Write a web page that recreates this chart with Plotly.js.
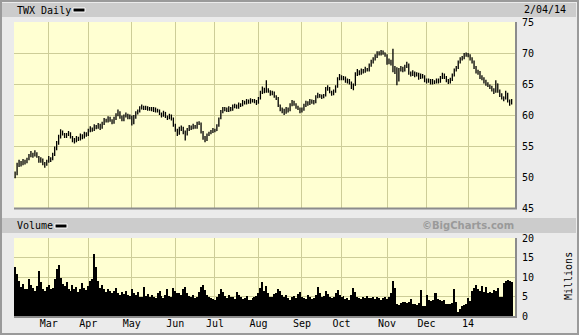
<!DOCTYPE html>
<html><head><meta charset="utf-8">
<script src="https://cdn.plot.ly/plotly-3.0.1.min.js"></script>
<style>html,body{margin:0;padding:0;background:#ebebeb;}</style>
</head><body><div id="chart" style="width:579px;height:335px;"></div>
<script>
// ---- data (trading-day index 0 = 5 Feb 2013 ... 251 = 4 Feb 2014) ----
const monthTickIdx = [17,37,59,81,101,123,145,165,188,208,229];
const monthLabels = ['Mar','Apr','May','Jun','Jul','Aug','Sep','Oct','Nov','Dec','14'];
const priceTicks = [45,50,55,60,65,70,75];
const volTicks = [0,5,10,15,20];

const openP = [
50.0,50.4,51.9,52.3,52.1,52.5,52.4,52.9,53.4,53.8,
53.5,53.8,53.2,52.6,52.8,52.2,52.0,52.5,53.0,52.9,
53.7,54.6,55.4,56.5,57.2,56.9,56.6,56.9,57.0,56.4,
56.0,55.9,56.2,56.1,56.7,56.5,57.0,56.9,57.5,57.8,
57.7,58.2,58.0,58.4,58.0,58.6,59.2,59.0,59.5,59.1,
58.8,59.4,60.0,60.4,59.6,59.3,59.8,60.0,59.5,59.8,
58.7,59.7,60.3,60.6,61.1,61.3,61.0,61.2,60.9,61.1,
60.8,61.0,60.6,60.7,60.2,59.9,60.4,59.7,59.5,59.9,
59.4,58.4,57.6,57.0,57.7,57.9,57.2,56.9,57.6,58.1,
57.9,58.3,58.0,58.6,58.7,57.2,56.4,55.9,56.8,57.0,
57.4,57.6,57.5,58.2,59.4,60.5,60.9,61.0,60.7,61.1,
60.9,61.4,61.5,61.2,61.7,61.6,62.1,61.9,62.3,62.0,
62.4,62.2,62.3,61.9,62.6,63.6,64.2,63.8,64.1,63.9,
63.4,63.6,63.0,62.7,61.5,60.9,60.7,60.4,61.0,60.7,
61.6,62.1,61.7,61.2,61.0,60.6,60.9,61.5,62.0,61.8,
62.3,62.1,62.0,62.9,63.2,63.0,62.9,63.1,64.2,64.4,
63.7,63.4,63.8,64.5,65.8,66.2,65.9,66.1,65.4,65.6,
65.2,64.6,64.8,66.6,67.0,66.7,67.2,67.0,67.4,67.2,
68.0,68.6,69.0,69.4,70.0,69.8,70.2,70.0,69.7,68.4,
68.7,68.3,67.6,66.9,65.5,67.3,67.6,67.2,67.8,68.2,
66.8,66.5,66.9,66.4,66.6,66.0,66.4,66.2,65.6,65.4,
65.6,65.2,65.5,65.3,65.7,65.4,66.0,66.5,66.1,65.6,
65.3,65.7,66.4,67.2,67.6,68.5,69.0,69.2,69.7,69.8,
69.6,69.0,68.6,67.6,67.0,66.9,66.0,65.9,65.4,65.0,
64.8,64.5,64.0,63.8,65.0,63.9,63.2,62.9,62.6,63.4,
62.4,61.9];
const highP = [
50.9,52.3,52.8,52.6,52.9,52.8,53.1,53.7,54.2,53.9,
54.3,54.0,53.4,53.2,53.0,52.4,52.8,53.4,53.2,53.9,
54.9,55.8,56.8,57.7,57.5,57.1,57.1,57.4,57.2,56.6,
56.3,56.6,56.5,57.0,56.9,57.3,57.2,57.8,58.2,58.0,
58.5,58.4,58.7,58.6,58.9,59.5,59.4,59.8,59.7,59.3,
59.7,60.3,60.9,60.6,59.9,60.1,60.4,60.2,60.1,59.9,
60.0,60.6,60.9,61.4,61.7,61.5,61.5,61.4,61.3,61.3,
61.3,61.2,61.0,60.9,60.4,60.7,60.5,59.9,60.2,60.1,
59.6,58.6,57.8,58.1,58.3,58.1,57.5,57.9,58.4,58.3,
58.6,58.4,58.9,59.0,58.8,57.4,56.6,57.0,57.3,57.6,
57.9,57.8,58.5,59.6,60.8,61.3,61.3,61.2,61.4,61.3,
61.7,61.8,61.7,62.0,61.9,62.4,62.3,62.6,62.5,62.7,
62.6,62.6,62.4,62.9,63.9,64.6,64.4,65.6,64.3,64.0,
63.9,63.8,63.2,62.9,61.7,61.2,61.0,61.3,61.2,61.9,
62.4,62.3,61.9,61.5,61.2,61.2,61.8,62.3,62.2,62.6,
62.5,62.4,63.2,63.6,63.4,63.3,63.4,64.5,64.8,64.5,
63.9,64.1,64.8,66.1,66.6,66.4,66.3,66.2,65.9,65.8,
65.4,65.1,66.9,67.4,67.2,67.5,67.4,67.8,67.6,68.3,
68.9,69.3,69.8,70.3,70.3,70.5,70.4,70.1,69.8,69.1,
68.9,70.7,67.9,67.7,67.6,67.9,67.8,68.1,68.6,68.3,
67.0,67.2,67.0,66.9,66.8,66.7,66.6,66.4,65.9,65.9,
65.8,65.8,65.6,65.9,65.9,66.3,66.8,66.7,66.3,65.8,
66.0,66.7,67.5,67.9,68.8,69.3,69.5,70.0,70.1,70.0,
69.8,69.3,68.8,67.9,67.3,67.1,66.4,66.1,65.7,65.3,
64.9,64.7,64.3,65.6,65.1,64.1,63.5,63.0,63.9,63.6,
62.5,62.6];
const lowP = [
49.8,50.3,51.6,51.7,51.9,52.0,52.2,52.7,53.2,53.1,
53.3,53.1,52.3,52.3,51.9,51.5,51.8,52.3,52.4,52.7,
53.4,54.3,55.2,56.2,56.7,56.3,56.3,56.6,56.2,55.6,
55.4,55.6,55.8,55.9,56.1,56.2,56.5,56.6,57.2,57.3,
57.4,57.7,57.8,57.6,57.8,58.4,58.8,58.8,58.9,58.5,
58.6,59.2,59.8,59.4,59.0,59.0,59.6,59.3,59.3,58.3,
58.5,59.4,60.1,60.4,60.9,60.8,60.8,60.7,60.7,60.6,
60.5,60.4,60.4,60.0,59.6,59.7,59.5,59.2,59.3,59.1,
58.1,57.3,56.6,56.8,57.4,56.9,55.9,56.7,57.4,57.6,
57.7,57.8,57.8,58.4,57.0,56.0,55.6,55.8,56.6,56.9,
57.1,57.2,57.4,58.1,59.3,60.3,60.6,60.5,60.5,60.6,
60.7,61.1,61.0,61.0,61.3,61.4,61.7,61.7,61.8,61.8,
62.0,61.9,61.6,61.8,62.5,63.4,63.5,63.6,63.6,63.1,
63.2,62.8,62.4,61.3,60.6,60.3,60.0,60.2,60.4,60.6,
61.4,61.5,61.0,60.8,60.3,60.4,60.7,61.3,61.5,61.6,
61.8,61.7,61.9,62.7,62.8,62.6,62.7,63.0,63.9,63.5,
63.1,63.2,63.6,64.4,65.6,65.6,65.6,65.2,65.1,64.9,
64.2,64.0,64.7,66.3,66.4,66.5,66.7,66.8,67.0,67.0,
67.8,68.3,68.8,69.2,69.6,69.6,69.7,69.4,68.1,68.2,
68.0,66.9,66.6,64.8,65.4,67.0,66.9,67.0,67.6,66.5,
66.2,66.3,66.1,66.2,65.7,65.8,65.9,65.3,65.1,65.2,
64.9,64.9,65.0,65.1,65.1,65.2,65.8,65.8,65.3,65.0,
65.1,65.5,66.2,67.0,67.4,68.3,68.8,69.0,69.4,69.3,
68.8,68.3,67.4,66.7,66.5,65.8,65.6,65.1,64.7,64.5,
64.2,63.8,63.4,63.6,63.6,62.9,62.5,62.2,62.5,62.0,
61.5,61.7];
const closeP = [
50.3,51.8,52.4,52.0,52.6,52.3,52.8,53.4,53.8,53.5,
53.9,53.3,52.6,52.9,52.2,51.9,52.5,53.0,52.8,53.6,
54.6,55.5,56.4,57.3,57.0,56.6,56.8,57.1,56.5,56.0,
55.8,56.3,56.1,56.7,56.4,57.0,56.8,57.5,57.9,57.6,
58.2,58.0,58.4,57.9,58.6,59.2,59.0,59.5,59.1,58.8,
59.4,60.0,60.5,59.6,59.2,59.8,60.1,59.5,59.8,58.6,
59.7,60.3,60.6,61.1,61.3,61.0,61.2,60.9,61.1,60.8,
61.0,60.6,60.7,60.2,59.9,60.4,59.7,59.5,59.9,59.4,
58.4,57.6,56.9,57.7,57.9,57.2,56.9,57.6,58.1,57.9,
58.3,58.0,58.6,58.8,57.2,56.4,55.9,56.8,57.0,57.4,
57.6,57.5,58.2,59.4,60.5,60.9,61.0,60.7,61.1,60.9,
61.4,61.5,61.2,61.7,61.6,62.1,61.9,62.3,62.0,62.4,
62.2,62.3,61.9,62.6,63.6,64.2,63.8,64.1,63.9,63.4,
63.6,63.0,62.7,61.5,60.9,60.7,60.4,61.0,60.7,61.6,
62.1,61.7,61.2,61.0,60.6,60.9,61.5,62.0,61.8,62.3,
62.1,62.0,62.9,63.2,63.0,62.9,63.1,64.2,64.4,63.7,
63.4,63.8,64.5,65.8,66.2,65.9,66.1,65.4,65.6,65.2,
64.6,64.8,66.6,67.0,66.7,67.2,67.0,67.4,67.2,68.0,
68.6,69.0,69.4,70.0,69.8,70.2,70.0,69.7,68.4,68.7,
68.3,67.6,66.9,65.5,67.3,67.6,67.2,67.8,68.2,66.8,
66.5,66.9,66.4,66.6,66.0,66.4,66.2,65.6,65.4,65.6,
65.2,65.5,65.3,65.7,65.4,66.0,66.5,66.1,65.6,65.3,
65.7,66.4,67.2,67.6,68.5,69.0,69.2,69.7,69.8,69.6,
69.0,68.6,67.6,67.0,66.9,66.0,65.9,65.4,65.0,64.8,
64.5,64.0,63.8,65.0,63.9,63.2,62.9,62.6,63.4,62.4,
61.9,62.3];
const volumeM = [
12.5,10.8,9.0,7.5,8.2,6.8,7.0,9.6,8.0,7.2,
6.5,7.8,11.5,8.8,7.0,6.3,7.5,8.0,6.9,7.2,
9.5,12.0,13.0,9.8,8.2,7.6,8.8,7.0,6.5,7.9,
6.8,7.4,6.2,7.0,8.5,7.2,6.6,7.8,8.9,9.6,
15.8,12.5,9.0,7.2,8.0,6.8,6.2,7.0,6.5,5.8,
6.4,7.2,6.0,5.4,6.1,5.7,6.3,5.5,5.2,6.8,
6.0,5.5,6.2,5.0,4.8,7.5,5.2,5.6,4.9,5.3,
5.0,4.6,5.8,6.4,5.1,4.7,5.5,6.8,5.2,4.9,
7.2,6.5,5.8,6.0,5.4,6.8,7.5,5.9,5.2,4.8,
5.3,4.6,5.0,6.2,7.4,8.0,6.6,5.5,5.0,4.5,
4.4,4.0,4.8,5.6,6.9,6.2,5.1,4.7,5.3,4.8,
5.0,4.4,6.2,5.5,4.9,4.3,4.6,5.1,4.2,4.0,
4.5,4.8,5.2,6.0,7.2,8.6,6.5,7.8,5.9,5.0,
4.9,5.6,6.0,7.0,6.3,5.4,4.8,5.5,4.6,4.2,
4.8,5.2,4.5,5.7,6.1,5.0,4.6,4.4,5.3,4.9,
4.3,4.7,5.5,7.5,5.8,4.9,5.2,6.4,5.6,4.8,
4.5,5.0,5.8,6.6,5.3,4.9,5.1,4.4,4.7,4.2,
5.4,7.1,6.2,5.0,4.6,4.3,4.8,4.5,5.2,4.6,
4.6,5.0,4.4,4.8,4.5,4.2,4.7,5.0,4.3,4.8,
6.0,9.0,7.3,3.2,2.9,3.3,3.5,3.7,3.4,3.6,
4.3,3.2,3.0,2.9,3.4,6.7,2.5,2.6,5.5,4.2,
3.9,4.1,5.9,6.0,4.3,4.0,3.8,4.1,3.2,3.0,
3.0,3.3,7.0,3.5,1.0,1.8,2.5,2.8,3.2,4.5,
3.8,6.5,7.2,8.0,6.8,6.3,7.6,6.2,7.5,6.0,
6.1,5.8,6.6,6.4,7.3,5.0,4.8,8.4,8.9,9.2,
9.1,8.7];
const dayIdx = closeP.map((_, i) => i);

// ---- layout helpers: page pixels -> paper coords ----
const PL = 14, PR = 515, PT = 22, PB = 316;
const px = x => (x - PL) / (PR - PL);
const py = y => (PB - y) / (PB - PT);

const MONO = 'DejaVu Sans Mono, monospace';
const GRID = '#cdcd98';

const traces = [
  {
    type: 'ohlc', x: dayIdx, open: openP, high: highP, low: lowP, close: closeP,
    xaxis: 'x', yaxis: 'y',
    increasing: {line: {color: '#000', width: 1.3}},
    decreasing: {line: {color: '#000', width: 1.3}},
    tickwidth: 0.3, hoverinfo: 'skip', showlegend: false
  },
  {
    type: 'bar', x: dayIdx, y: volumeM, xaxis: 'x', yaxis: 'y2',
    marker: {color: '#000', line: {width: 0}}, hoverinfo: 'skip', showlegend: false
  }
];

const shapes = [
  {type:'rect', xref:'paper', yref:'paper', x0:px(2), x1:px(576), y0:py(17), y1:py(3), fillcolor:'#cccccc', line:{width:0}, layer:'below'},
  {type:'rect', xref:'paper', yref:'paper', x0:px(2), x1:px(576), y0:py(233), y1:py(218), fillcolor:'#cccccc', line:{width:0}, layer:'below'},
  {type:'rect', xref:'paper', yref:'paper', x0:px(1), x1:px(578), y0:py(334), y1:py(1), line:{color:'#9a9a9a', width:2}, layer:'below'},
  {type:'rect', xref:'paper', yref:'paper', x0:px(73), x1:px(85), y0:py(12), y1:py(8), fillcolor:'#000', line:{color:'#fff', width:1}},
  {type:'rect', xref:'paper', yref:'paper', x0:px(55), x1:px(67), y0:py(228), y1:py(224), fillcolor:'#000', line:{color:'#fff', width:1}},
  {type:'line', xref:'paper', yref:'paper', x0:px(516), x1:px(516), y0:py(209), y1:py(22), line:{color:'#8c8c8c', width:2}},
  {type:'line', xref:'paper', yref:'paper', x0:px(14), x1:px(517), y0:py(208.5), y1:py(208.5), line:{color:'#8c8c8c', width:2}},
  {type:'line', xref:'paper', yref:'paper', x0:px(516), x1:px(516), y0:py(317), y1:py(238), line:{color:'#8c8c8c', width:2}},
  {type:'line', xref:'paper', yref:'paper', x0:px(14), x1:px(517), y0:py(317), y1:py(317), line:{color:'#8c8c8c', width:2}}
];

const annotations = [
  {text:'TWX Daily', xref:'paper', yref:'paper', x:px(15), y:py(10.5), xanchor:'left', yanchor:'middle', showarrow:false, font:{family:MONO, size:10, color:'#000'}},
  {text:'2/04/14', xref:'paper', yref:'paper', x:px(522), y:py(9.5), xanchor:'left', yanchor:'middle', showarrow:false, font:{family:MONO, size:10, color:'#000'}},
  {text:'Volume', xref:'paper', yref:'paper', x:px(15), y:py(225.5), xanchor:'left', yanchor:'middle', showarrow:false, font:{family:MONO, size:10, color:'#000'}},
  {text:'©BigCharts.com', xref:'paper', yref:'paper', x:px(516), y:py(225.5), xanchor:'right', yanchor:'middle', showarrow:false, font:{family:'DejaVu Sans, sans-serif', size:10, color:'#9a9a9a', weight:'bold'}},
  {text:'Millions', xref:'paper', yref:'paper', x:px(568), y:py(276), xanchor:'center', yanchor:'middle', textangle:-90, showarrow:false, font:{family:MONO, size:10, color:'#000'}}
];

const layout = {
  width: 579, height: 335,
  margin: {l: PL, r: 579 - PR, t: PT, b: 335 - PB, pad: 0},
  paper_bgcolor: '#ebebeb', plot_bgcolor: '#ffffd2',
  showlegend: false, bargap: 0, dragmode: false,
  xaxis: {
    range: [-0.56, 252.7], anchor: 'y2',
    tickvals: monthTickIdx, ticktext: monthLabels,
    showgrid: true, gridcolor: GRID, gridwidth: 1,
    zeroline: false, showline: false, ticks: '',
    tickfont: {family: MONO, size: 10, color: '#000'},
    rangeslider: {visible: false}, fixedrange: true
  },
  yaxis: {
    domain: [py(208), 1], range: [45, 75], side: 'right', anchor: 'x',
    tickvals: priceTicks, showgrid: true, gridcolor: GRID, gridwidth: 1,
    zeroline: false, showline: false, ticks: '', ticklabelstandoff: 6,
    tickfont: {family: MONO, size: 10, color: '#000'}, fixedrange: true
  },
  yaxis2: {
    domain: [0, py(238)], range: [0, 20], side: 'right', anchor: 'x',
    tickvals: volTicks, showgrid: true, gridcolor: GRID, gridwidth: 1,
    zeroline: false, showline: false, ticks: '', ticklabelstandoff: 6,
    tickfont: {family: MONO, size: 10, color: '#000'}, fixedrange: true
  },
  shapes: shapes,
  annotations: annotations
};

Plotly.newPlot('chart', traces, layout, {staticPlot: true, displayModeBar: false});
</script>
</body></html>
